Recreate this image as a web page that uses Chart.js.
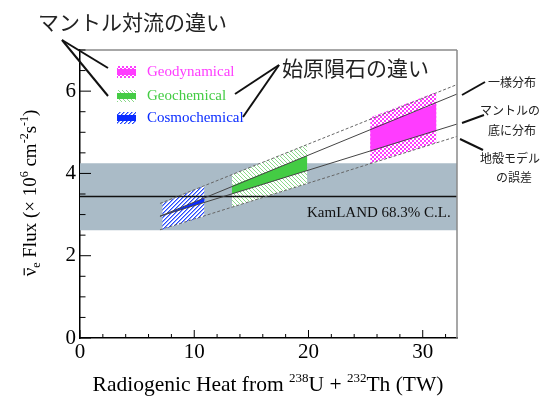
<!DOCTYPE html>
<html lang="ja">
<head>
<meta charset="UTF-8">
<title>Geoneutrino flux vs radiogenic heat</title>
<script src="https://cdn.jsdelivr.net/npm/chart.js"></script>
<style>
  html, body { margin: 0; padding: 0; background: #fff; }
</style>
</head>
<body>
<canvas id="geoChart" width="549" height="399"></canvas>
<script>
// model lines, flux (x10^6 cm^-2 s^-1) read at heat = 7 and 33 TW
const lineHeat = [7, 33];
const upperBand = [3.27, 6.16];     // dashed, crust model error
const homogeneous = [2.96, 5.93];   // solid, uniform mantle
const mantleBottom = [2.96, 5.20];  // solid, mantle at the bottom
const lowerBand = [2.63, 4.90];     // dashed

// KamLAND measurement
const kamlandHeat = [0, 33];
const kamlandFlux = [3.44, 3.44];
const kamlandHigh = [4.25, 4.25];
const kamlandLow = [2.62, 2.62];

// model regions: heat range, hatched top/bottom, solid top/bottom
const cosmoHeat = [7.2, 10.9];
const cosmoHatchTop = [3.27, 3.70];
const cosmoHatchBottom = [2.63, 2.96];
const cosmoSolidTop = [2.98, 3.40];
const cosmoSolidBottom = [2.98, 3.30];

const geochemHeat = [13.3, 19.9];
const geochemHatchTop = [3.97, 4.71];
const geochemHatchBottom = [3.18, 3.75];
const geochemSolidTop = [3.70, 4.43];
const geochemSolidBottom = [3.50, 4.07];

const geodynHeat = [25.4, 31.2];
const geodynHatchTop = [5.36, 5.98];
const geodynHatchBottom = [4.24, 4.75];
const geodynSolidTop = [5.09, 5.70];
const geodynSolidBottom = [4.53, 5.04];

const legendNames = ['Geodynamical', 'Geochemical', 'Cosmochemical'];
const xTickLabels = [0, 10, 20, 30];
const yTickLabels = [0, 2, 4, 6];

const SERIF = '"Liberation Serif", "DejaVu Serif", serif';
const JP = '"Noto Sans CJK JP", sans-serif';

function makePattern(kind) {
    const c = document.createElement('canvas');
    c.width = 4; c.height = 4;
    const g = c.getContext('2d');
    g.fillStyle = '#fff';
    g.fillRect(0, 0, 4, 4);
    for (let i = 0; i < 4; i++) {
        if (kind === 'blue') {
            g.fillStyle = '#2448ff';
            g.fillRect(i, 3 - i, 1, 1);
            g.fillStyle = '#8fa2ff';
            g.fillRect(i, (4 - i) % 4, 1, 1);
        } else if (kind === 'green') {
            g.fillStyle = '#8ad98a';
            g.fillRect(i, i, 1, 1);
        }
    }
    if (kind === 'magenta') {
        g.fillStyle = '#ff3cff';
        g.fillRect(0, 0, 2, 2);
        g.fillRect(2, 2, 2, 2);
    }
    return g.createPattern(c, 'repeat');
}

const pat = {
    blue: makePattern('blue'),
    green: makePattern('green'),
    magenta: makePattern('magenta')
};

const colors = { magenta: '#ff3cff', green: '#44cc44', blue: '#0a2cff' };

function pts(xs, ys) {
    return xs.map((x, i) => ({ x: x, y: ys[i] }));
}

// pair of datasets: top fills down to bottom
function region(xs, top, bottom, fillColor, order) {
    return [
        { data: pts(xs, top), borderWidth: 0, pointRadius: 0, showLine: true,
          fill: '+1', backgroundColor: fillColor, order: order },
        { data: pts(xs, bottom), borderWidth: 0, pointRadius: 0, showLine: true,
          fill: false, order: order }
    ];
}

function modelLine(ys, dashed) {
    return { data: pts(lineHeat, ys), borderColor: dashed ? '#666' : '#444',
             borderWidth: 1, borderDash: dashed ? [3, 2] : [], pointRadius: 0,
             showLine: true, fill: false, order: 1 };
}

const datasets = [].concat(
    region(kamlandHeat, kamlandHigh, kamlandLow, '#aabbc7', 10),
    region(cosmoHeat, cosmoHatchTop, cosmoHatchBottom, pat.blue, 8),
    region(geochemHeat, geochemHatchTop, geochemHatchBottom, pat.green, 8),
    region(geodynHeat, geodynHatchTop, geodynHatchBottom, pat.magenta, 8),
    region(cosmoHeat, cosmoSolidTop, cosmoSolidBottom, colors.blue, 6),
    region(geochemHeat, geochemSolidTop, geochemSolidBottom, colors.green, 6),
    region(geodynHeat, geodynSolidTop, geodynSolidBottom, colors.magenta, 6),
    [{ data: pts(kamlandHeat, kamlandFlux), borderColor: '#111', borderWidth: 1.5,
       pointRadius: 0, showLine: true, fill: false, order: 4 }],
    [modelLine(upperBand, true), modelLine(homogeneous, false),
     modelLine(mantleBottom, false), modelLine(lowerBand, true)]
);

// text with super/subscripts
function drawRuns(ctx, runs, cx, baseY, size) {
    const fontOf = r => (r.s ? Math.round(size * 0.62) : size) + 'px ' + SERIF;
    let total = 0;
    runs.forEach(r => { ctx.font = fontOf(r); r.w = ctx.measureText(r.t).width; total += r.w; });
    let x = cx - total / 2;
    ctx.textAlign = 'left';
    ctx.textBaseline = 'alphabetic';
    runs.forEach(r => {
        ctx.font = fontOf(r);
        let y = baseY;
        if (r.s === 'sup') y -= size * 0.42;
        if (r.s === 'sub') y += size * 0.22;
        ctx.fillText(r.t, x, y);
        if (r.bar) {
            ctx.beginPath();
            ctx.lineWidth = 1.2;
            ctx.moveTo(x + 1, y - size * 0.62);
            ctx.lineTo(x + r.w - 0.5, y - size * 0.62);
            ctx.stroke();
        }
        x += r.w;
    });
}

function seg(ctx, x1, y1, x2, y2, w) {
    ctx.beginPath();
    ctx.lineWidth = w;
    ctx.moveTo(x1, y1);
    ctx.lineTo(x2, y2);
    ctx.stroke();
}

const decorations = {
    id: 'decorations',
    afterDraw(chart) {
        const ctx = chart.ctx;
        const a = chart.chartArea;
        const xs = chart.scales.x, ys = chart.scales.y;
        ctx.save();

        // gray top/right frame
        ctx.strokeStyle = '#8a8a8a';
        seg(ctx, a.left, a.top, a.right, a.top, 1.5);
        seg(ctx, a.right, a.top, a.right, a.bottom, 1.5);

        // inward ticks
        ctx.strokeStyle = '#000';
        for (let v = 0; v <= 32; v += 2) {
            const px = xs.getPixelForValue(v);
            seg(ctx, px, a.bottom, px, a.bottom - (v % 10 === 0 ? 8 : 4), 1);
        }
        for (let v = 0; v <= 7; v += 0.5) {
            const py = ys.getPixelForValue(v);
            seg(ctx, a.left, py, a.left + (v % 2 === 0 ? 11 : 5.5), py, 1);
        }

        // KamLAND label
        ctx.fillStyle = '#111';
        ctx.font = '15px ' + SERIF;
        ctx.textAlign = 'left';
        ctx.textBaseline = 'middle';
        ctx.fillText('KamLAND 68.3% C.L.', 307, 213);

        // legend
        const legendY = [72, 96, 118];
        const legendPat = [pat.magenta, pat.green, pat.blue];
        const legendCol = [colors.magenta, colors.green, colors.blue];
        legendNames.forEach((name, i) => {
            const cy = legendY[i];
            ctx.fillStyle = legendPat[i];
            ctx.fillRect(117, cy - 6, 19, 12);
            ctx.fillStyle = legendCol[i];
            ctx.fillRect(117, cy - 3, 19, 6);
            ctx.font = '15px ' + SERIF;
            ctx.textBaseline = 'middle';
            ctx.fillText(name, 147, cy);
        });

        // axis titles
        ctx.fillStyle = '#000';
        ctx.strokeStyle = '#000';
        drawRuns(ctx, [
            { t: 'Radiogenic Heat from ' }, { t: '238', s: 'sup' }, { t: 'U + ' },
            { t: '232', s: 'sup' }, { t: 'Th (TW)' }
        ], 268, 391, 21.5);

        ctx.save();
        ctx.translate(36, 193);
        ctx.rotate(-Math.PI / 2);
        drawRuns(ctx, [
            { t: 'ν', bar: true }, { t: 'e', s: 'sub' }, { t: ' Flux (× 10' },
            { t: '6', s: 'sup' }, { t: ' cm' }, { t: '-2', s: 'sup' }, { t: 's' },
            { t: '-1', s: 'sup' }, { t: ')' }
        ], 0, 0, 19);
        ctx.restore();

        // Japanese annotations
        ctx.fillStyle = '#222';
        ctx.font = '21px ' + JP;
        ctx.textAlign = 'left';
        ctx.textBaseline = 'middle';
        ctx.fillText('マントル対流の違い', 38, 22);
        ctx.fillText('始原隕石の違い', 282, 68);

        ctx.font = '12px ' + JP;
        ctx.textAlign = 'center';
        ctx.fillText('一様分布', 512, 82);
        ctx.fillText('マントルの', 510, 110);
        ctx.fillText('底に分布', 512, 130);
        ctx.fillText('地殻モデル', 510, 158);
        ctx.fillText('の誤差', 514, 177);

        ctx.strokeStyle = '#111';
        seg(ctx, 62, 40, 108, 68, 2);
        seg(ctx, 62, 40, 108, 96, 2);
        seg(ctx, 279, 65, 235, 94, 2);
        seg(ctx, 279, 65, 243, 117, 2);
        seg(ctx, 462, 95, 485, 82, 2);
        seg(ctx, 462, 123, 484, 115, 2);
        seg(ctx, 460, 139, 483, 150, 2);

        ctx.restore();
    }
};

const tickFont = { family: SERIF, size: 21 };

new Chart(document.getElementById('geoChart'), {
    type: 'scatter',
    data: { datasets: datasets },
    options: {
        responsive: false,
        animation: false,
        layout: { padding: { left: 0, top: 50, right: 92, bottom: 0 } },
        plugins: { legend: { display: false }, tooltip: { enabled: false } },
        scales: {
            x: {
                type: 'linear', min: 0, max: 33,
                afterFit: s => { s.height = 61; },
                grid: { display: false, drawTicks: false },
                border: { display: true, color: '#000', width: 1.5 },
                ticks: {
                    stepSize: 2, includeBounds: false, autoSkip: false, maxRotation: 0,
                    padding: 2, color: '#000', font: tickFont,
                    callback: v => xTickLabels.includes(v) ? String(v) : ''
                }
            },
            y: {
                type: 'linear', min: 0, max: 7,
                afterFit: s => { s.width = 80; },
                grid: { display: false, drawTicks: false },
                border: { display: true, color: '#000', width: 1.5 },
                ticks: {
                    stepSize: 0.5, includeBounds: false, autoSkip: false,
                    padding: 4, color: '#000', font: tickFont,
                    callback: v => yTickLabels.includes(v) ? String(v) : ''
                }
            }
        }
    },
    plugins: [decorations]
});
</script>
</body>
</html>
